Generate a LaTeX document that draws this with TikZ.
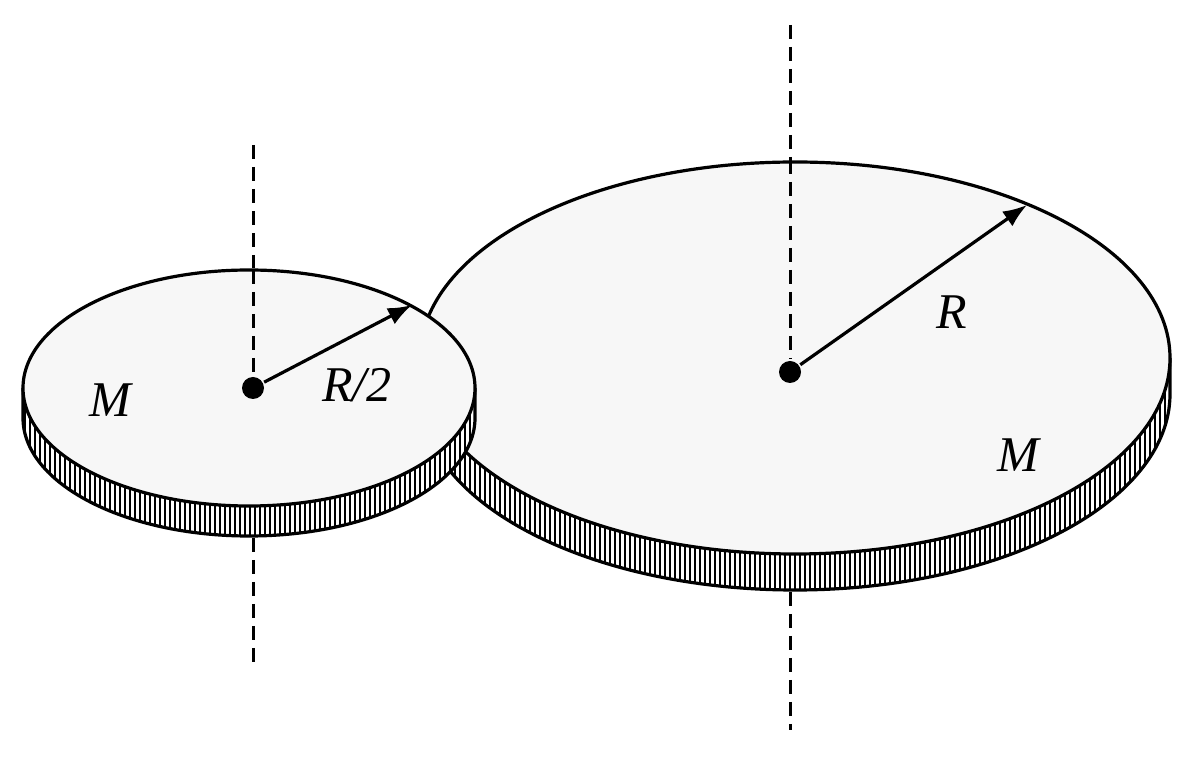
\documentclass[tikz,border=0pt]{standalone}
\usepackage{fontspec}
\setmainfont{Liberation Serif}
\usetikzlibrary{arrows.meta}
\begin{document}
\begin{tikzpicture}[x=0.5pt,y=-0.5pt,line width=1.6pt,
  axis/.style={line width=1.5pt,dash pattern=on 7pt off 4pt},
  arr/.style={-{Latex[length=12pt,width=9pt]},line width=1.6pt},
  lbl/.style={font=\fontsize{25}{28}\selectfont\itshape},
  dot/.style={circle,fill=black,inner sep=0pt,minimum size=11pt}]
\useasboundingbox (0,0) rectangle (1200,758);
% ---- large disk
\def\cx{795}\def\cy{358}\def\rx{375}\def\ry{196}\def\t{36}
\draw[axis] (790,25) -- (790,160);
\draw[axis] (790,592) -- (790,730);
\begin{scope}
\path[clip] (\cx-\rx,\cy) -- (\cx-\rx,\cy+\t) arc[start angle=180,end angle=0,x radius=\rx,y radius=\ry] -- (\cx+\rx,\cy) arc[start angle=0,end angle=180,x radius=\rx,y radius=\ry] -- cycle;
\fill[white] (0,0) rectangle (1200,758);
\foreach \x in {420,425,...,1175} \draw[line width=0.6pt] (\x,300) -- (\x,620);
\end{scope}
\draw (\cx-\rx,\cy) -- (\cx-\rx,\cy+\t) arc[start angle=180,end angle=0,x radius=\rx,y radius=\ry] -- (\cx+\rx,\cy);
\draw[fill=white!97!black] (\cx,\cy) ellipse[x radius=\rx,y radius=\ry];
\node[dot] (c2) at (790,372) {};
\draw[axis] (790,160) -- (c2);
\coordinate (e2) at (1027,205);
\draw[arr] (c2) -- (e2);
\node[lbl] (R) at (952,312) {R};
\node[lbl] (M2) at (1018,455) {M};
% ---- small disk
\def\cx{249}\def\cy{388}\def\rx{226}\def\ry{118}\def\t{30}
\draw[axis] (253,145) -- (253,268);
\draw[axis] (253,538) -- (253,662);
\begin{scope}
\path[clip] (\cx-\rx,\cy) -- (\cx-\rx,\cy+\t) arc[start angle=180,end angle=0,x radius=\rx,y radius=\ry] -- (\cx+\rx,\cy) arc[start angle=0,end angle=180,x radius=\rx,y radius=\ry] -- cycle;
\fill[white] (0,0) rectangle (1200,758);
\foreach \x in {20,25,...,480} \draw[line width=0.6pt] (\x,350) -- (\x,560);
\end{scope}
\draw (\cx-\rx,\cy) -- (\cx-\rx,\cy+\t) arc[start angle=180,end angle=0,x radius=\rx,y radius=\ry] -- (\cx+\rx,\cy);
\draw[fill=white!97!black] (\cx,\cy) ellipse[x radius=\rx,y radius=\ry];
\node[dot] (c1) at (253,388) {};
\draw[axis] (253,270) -- (c1);
\coordinate (e1) at (412,305);
\draw[arr] (c1) -- (e1);
\node[lbl] (R2) at (357,385) {R/2};
\node[lbl] (M1) at (110,400) {M};
\end{tikzpicture}
\end{document}
